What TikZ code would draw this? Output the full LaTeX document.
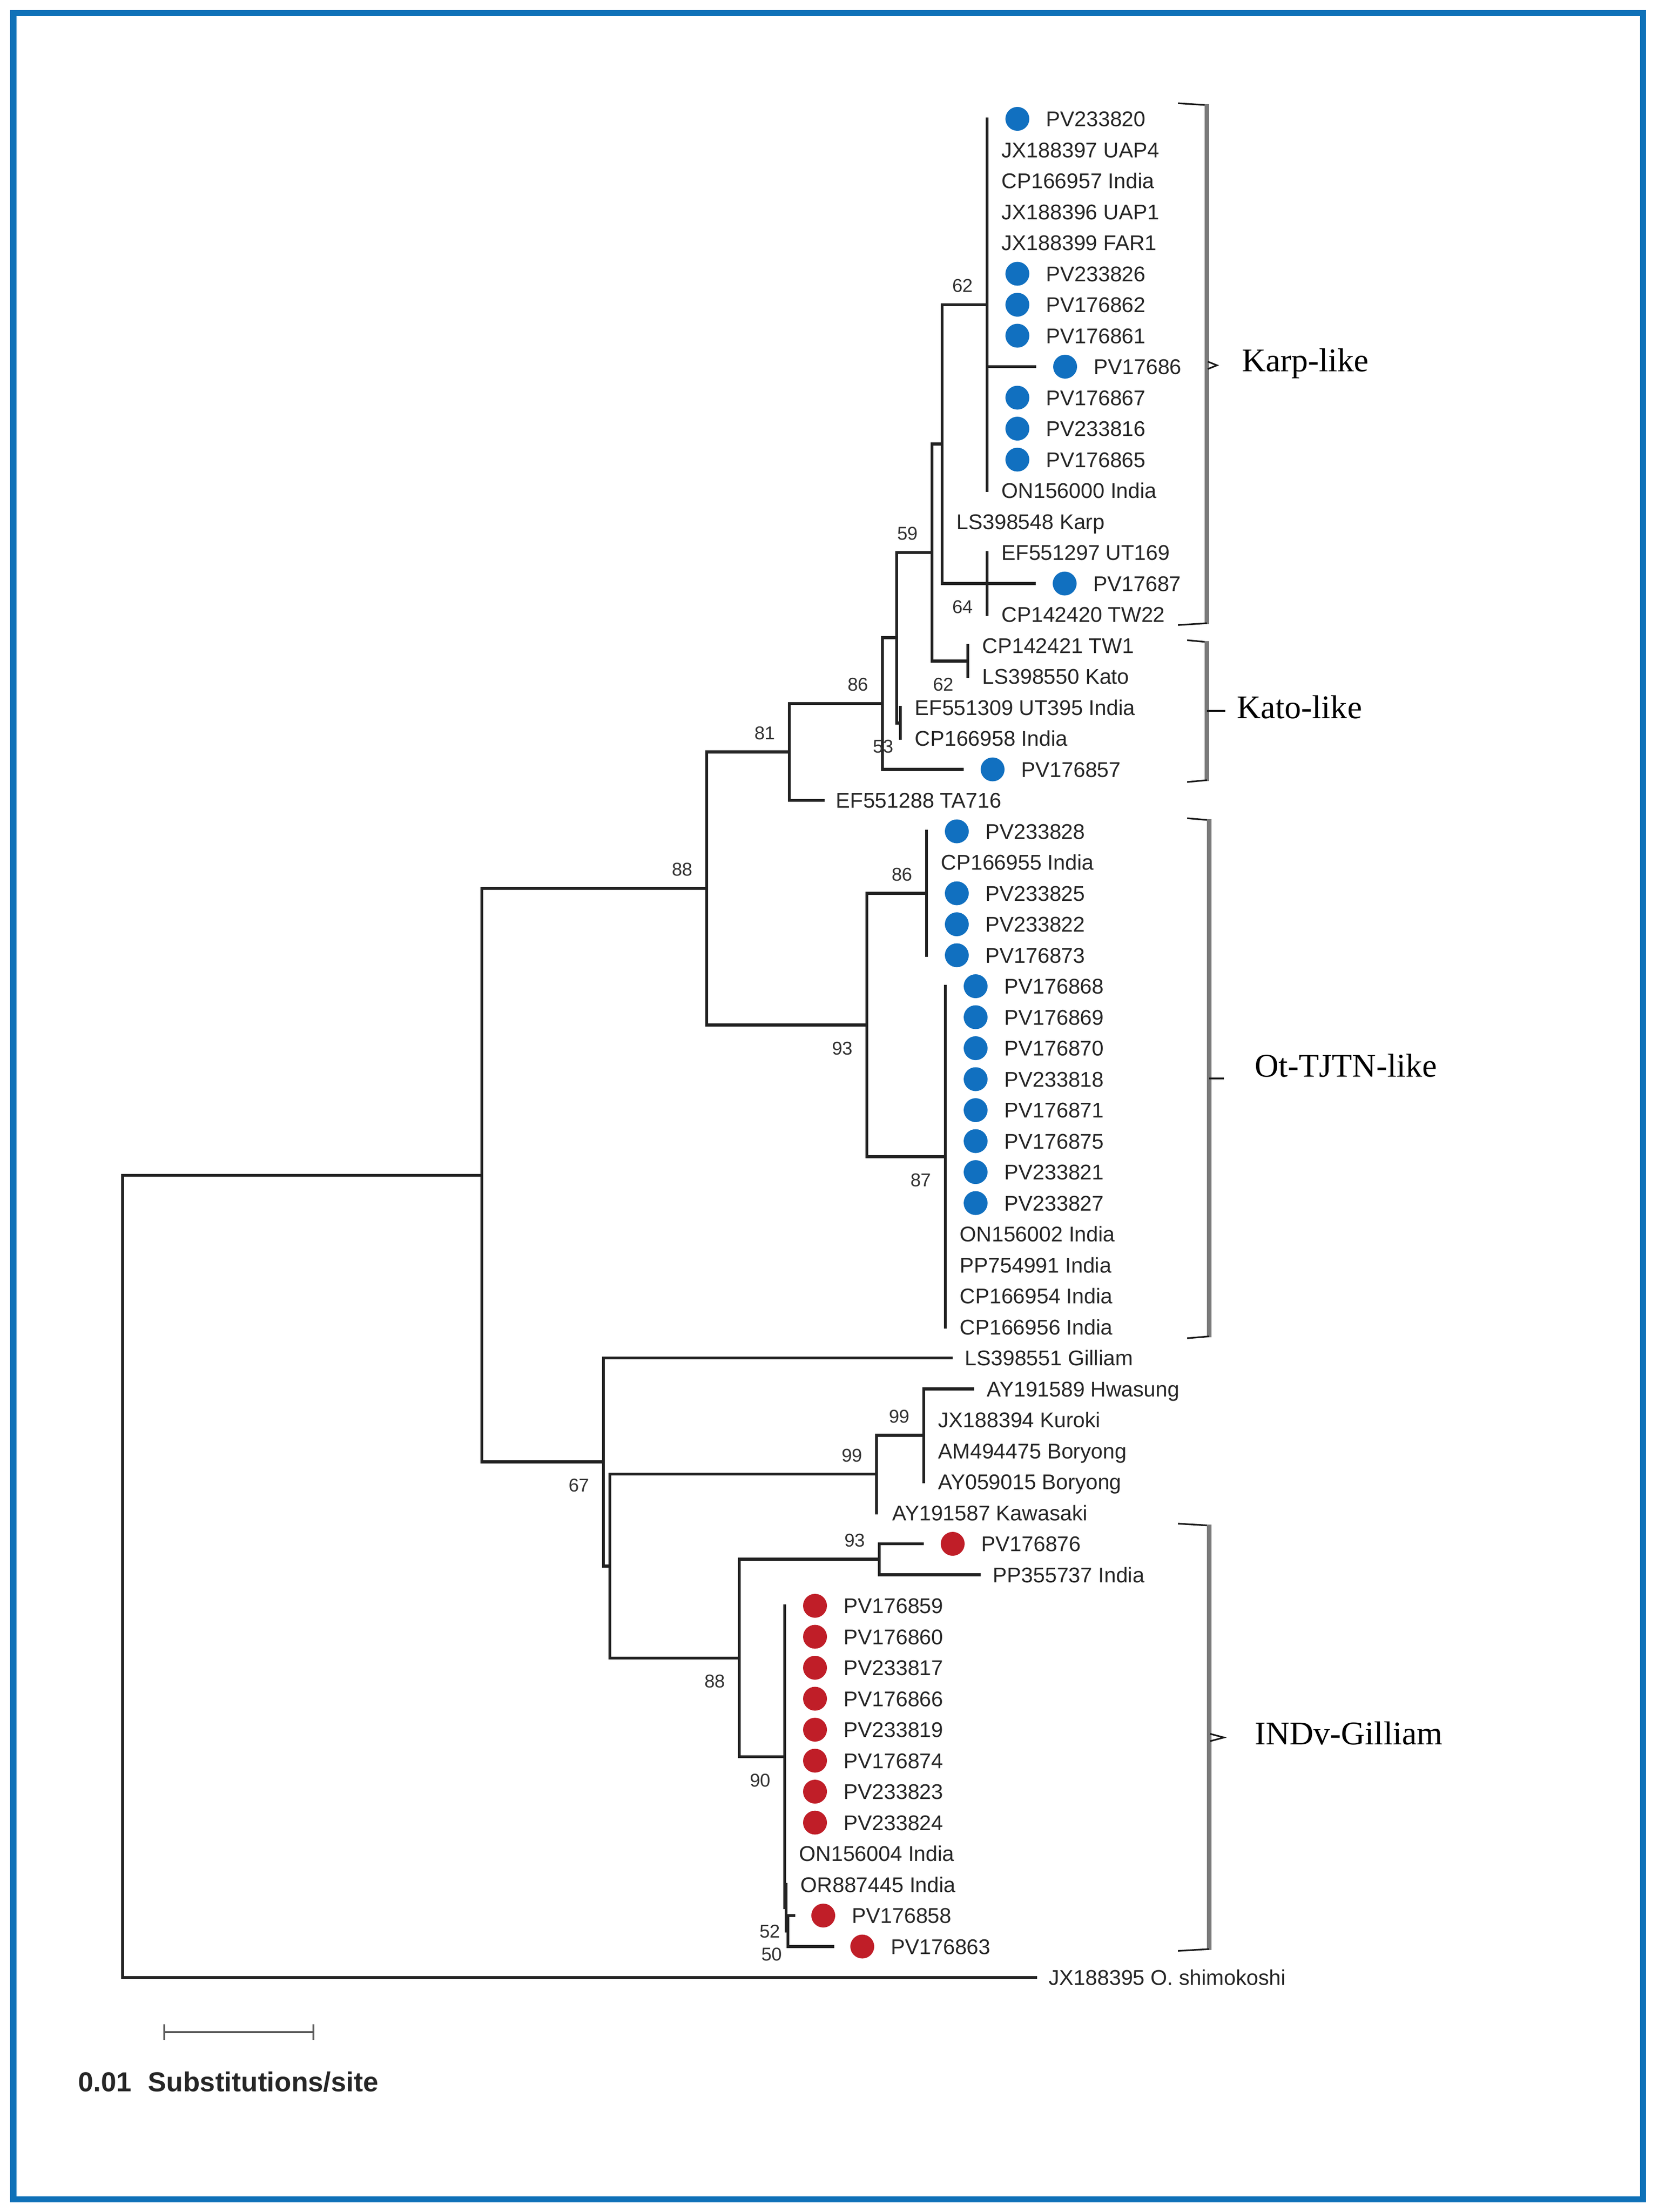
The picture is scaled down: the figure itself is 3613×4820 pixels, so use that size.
\documentclass[tikz,border=0pt]{standalone}
\usepackage{fontspec}
\setmainfont{Liberation Sans}
\newfontfamily\cladefont{Liberation Serif}
\usetikzlibrary{positioning}
\definecolor{framecol}{HTML}{0F71B8}
\definecolor{dotblue}{HTML}{1170C0}
\definecolor{dotred}{HTML}{C01E28}
\definecolor{branchcol}{HTML}{222222}
\definecolor{bracecol}{HTML}{7A7A7A}

\begin{document}
\begin{tikzpicture}[x=0.01cm, y=-0.01cm,
    branch/.style={draw=branchcol, line width=0.066cm, line cap=rect},
    taxon/.style={anchor=base west, inner sep=0, yshift=-0.165cm, text=black!85,
      font=\fontsize{13.2}{15}\selectfont},
    boot/.style={inner sep=0, text=black!80, font=\fontsize{11.5}{13}\selectfont},
    bootup/.style={boot, anchor=south east, xshift=-0.3cm, yshift=0.26cm},
    bootdown/.style={boot, anchor=north east, xshift=-0.3cm, yshift=-0.36cm},
    bluedot/.style={circle, fill=dotblue, inner sep=0, minimum size=0.52cm},
    reddot/.style={circle, fill=dotred, inner sep=0, minimum size=0.52cm},
    bracebar/.style={draw=bracecol, line width=0.1cm},
    braceend/.style={draw=black!90, line width=0.035cm},
    bracetip/.style={draw=black!90, line width=0.035cm},
    clade/.style={anchor=base west, inner sep=0, font=\cladefont\fontsize{20.5}{24}\selectfont},
    scalebar/.style={draw=black!65, line width=0.045cm}]
  \useasboundingbox (0,0) rectangle (3613,4820);
  \draw[framecol, line width=0.13cm] (29,28) rectangle (3580,4792);

  % internal nodes
  \coordinate (root) at (267,3435);
  \coordinate (nA) at (1050,2561);
  \coordinate (nB) at (1540,1936);
  \coordinate (nD) at (1720,1638.5);
  \coordinate (nF) at (1923,1533);
  \coordinate (nG) at (1954,1389.6);
  \coordinate (nH) at (2031,1204);
  \coordinate (nL) at (2053,967.75);
  \coordinate (nK) at (2151,664);
  \coordinate (nJ) at (2151,1271.5);
  \coordinate (nM) at (2109,1440.25);
  \coordinate (nI) at (1962,1575.25);
  \coordinate (nE) at (1889,2233.4);
  \coordinate (nN) at (2019,1946.5);
  \coordinate (nO) at (2060,2520.25);
  \coordinate (nC) at (1315,3185.75);
  \coordinate (nP) at (1329,3412.5);
  \coordinate (nQ) at (1910,3212.1);
  \coordinate (nS) at (2013,3127.75);
  \coordinate (nR) at (1611,3612.9);
  \coordinate (nT) at (1916,3397.75);
  \coordinate (nU) at (1710,3828);
  \coordinate (nV) at (1713,4157.1);
  \coordinate (nW) at (1717,4207.75);

  % leaves: branch end, dot, name
  \coordinate (e0) at (2151,259); \node[bluedot] (d0) at (2217,259) {}; \node[taxon] (t0) at (2279,259) {PV233820};
  \coordinate (e1) at (2151,326.5); \node[taxon] (t1) at (2182,326.5) {JX188397 UAP4};
  \coordinate (e2) at (2151,394); \node[taxon] (t2) at (2182,394) {CP166957 India};
  \coordinate (e3) at (2151,461.5); \node[taxon] (t3) at (2182,461.5) {JX188396 UAP1};
  \coordinate (e4) at (2151,529); \node[taxon] (t4) at (2182,529) {JX188399 FAR1};
  \coordinate (e5) at (2151,596.5); \node[bluedot] (d5) at (2217,596.5) {}; \node[taxon] (t5) at (2279,596.5) {PV233826};
  \coordinate (e6) at (2151,664); \node[bluedot] (d6) at (2217,664) {}; \node[taxon] (t6) at (2279,664) {PV176862};
  \coordinate (e7) at (2151,731.5); \node[bluedot] (d7) at (2217,731.5) {}; \node[taxon] (t7) at (2279,731.5) {PV176861};
  \coordinate (e8) at (2255,799); \node[bluedot] (d8) at (2321,799) {}; \node[taxon] (t8) at (2383,799) {PV17686};
  \coordinate (e9) at (2151,866.5); \node[bluedot] (d9) at (2217,866.5) {}; \node[taxon] (t9) at (2279,866.5) {PV176867};
  \coordinate (e10) at (2151,934); \node[bluedot] (d10) at (2217,934) {}; \node[taxon] (t10) at (2279,934) {PV233816};
  \coordinate (e11) at (2151,1001.5); \node[bluedot] (d11) at (2217,1001.5) {}; \node[taxon] (t11) at (2279,1001.5) {PV176865};
  \coordinate (e12) at (2151,1069); \node[taxon] (t12) at (2182,1069) {ON156000 India};
  \coordinate (e13) at (2053,1136.5); \node[taxon] (t13) at (2084,1136.5) {LS398548 Karp};
  \coordinate (e14) at (2151,1204); \node[taxon] (t14) at (2182,1204) {EF551297 UT169};
  \coordinate (e15) at (2254,1271.5); \node[bluedot] (d15) at (2320,1271.5) {}; \node[taxon] (t15) at (2382,1271.5) {PV17687};
  \coordinate (e16) at (2151,1339); \node[taxon] (t16) at (2182,1339) {CP142420 TW22};
  \coordinate (e17) at (2109,1406.5); \node[taxon] (t17) at (2140,1406.5) {CP142421 TW1};
  \coordinate (e18) at (2109,1474); \node[taxon] (t18) at (2140,1474) {LS398550 Kato};
  \coordinate (e19) at (1962,1541.5); \node[taxon] (t19) at (1993,1541.5) {EF551309 UT395 India};
  \coordinate (e20) at (1962,1609); \node[taxon] (t20) at (1993,1609) {CP166958 India};
  \coordinate (e21) at (2097,1676.5); \node[bluedot] (d21) at (2163,1676.5) {}; \node[taxon] (t21) at (2225,1676.5) {PV176857};
  \coordinate (e22) at (1794,1744); \node[taxon] (t22) at (1821,1744) {EF551288 TA716};
  \coordinate (e23) at (2019,1811.5); \node[bluedot] (d23) at (2085,1811.5) {}; \node[taxon] (t23) at (2147,1811.5) {PV233828};
  \coordinate (e24) at (2019,1879); \node[taxon] (t24) at (2050,1879) {CP166955 India};
  \coordinate (e25) at (2019,1946.5); \node[bluedot] (d25) at (2085,1946.5) {}; \node[taxon] (t25) at (2147,1946.5) {PV233825};
  \coordinate (e26) at (2019,2014); \node[bluedot] (d26) at (2085,2014) {}; \node[taxon] (t26) at (2147,2014) {PV233822};
  \coordinate (e27) at (2019,2081.5); \node[bluedot] (d27) at (2085,2081.5) {}; \node[taxon] (t27) at (2147,2081.5) {PV176873};
  \coordinate (e28) at (2060,2149); \node[bluedot] (d28) at (2126,2149) {}; \node[taxon] (t28) at (2188,2149) {PV176868};
  \coordinate (e29) at (2060,2216.5); \node[bluedot] (d29) at (2126,2216.5) {}; \node[taxon] (t29) at (2188,2216.5) {PV176869};
  \coordinate (e30) at (2060,2284); \node[bluedot] (d30) at (2126,2284) {}; \node[taxon] (t30) at (2188,2284) {PV176870};
  \coordinate (e31) at (2060,2351.5); \node[bluedot] (d31) at (2126,2351.5) {}; \node[taxon] (t31) at (2188,2351.5) {PV233818};
  \coordinate (e32) at (2060,2419); \node[bluedot] (d32) at (2126,2419) {}; \node[taxon] (t32) at (2188,2419) {PV176871};
  \coordinate (e33) at (2060,2486.5); \node[bluedot] (d33) at (2126,2486.5) {}; \node[taxon] (t33) at (2188,2486.5) {PV176875};
  \coordinate (e34) at (2060,2554); \node[bluedot] (d34) at (2126,2554) {}; \node[taxon] (t34) at (2188,2554) {PV233821};
  \coordinate (e35) at (2060,2621.5); \node[bluedot] (d35) at (2126,2621.5) {}; \node[taxon] (t35) at (2188,2621.5) {PV233827};
  \coordinate (e36) at (2060,2689); \node[taxon] (t36) at (2091,2689) {ON156002 India};
  \coordinate (e37) at (2060,2756.5); \node[taxon] (t37) at (2091,2756.5) {PP754991 India};
  \coordinate (e38) at (2060,2824); \node[taxon] (t38) at (2091,2824) {CP166954 India};
  \coordinate (e39) at (2060,2891.5); \node[taxon] (t39) at (2091,2891.5) {CP166956 India};
  \coordinate (e40) at (2073,2959); \node[taxon] (t40) at (2102,2959) {LS398551 Gilliam};
  \coordinate (e41) at (2120,3026.5); \node[taxon] (t41) at (2150,3026.5) {AY191589 Hwasung};
  \coordinate (e42) at (2013,3094); \node[taxon] (t42) at (2044,3094) {JX188394 Kuroki};
  \coordinate (e43) at (2013,3161.5); \node[taxon] (t43) at (2044,3161.5) {AM494475 Boryong};
  \coordinate (e44) at (2013,3229); \node[taxon] (t44) at (2044,3229) {AY059015 Boryong};
  \coordinate (e45) at (1910,3296.5); \node[taxon] (t45) at (1944,3296.5) {AY191587 Kawasaki};
  \coordinate (e46) at (2010,3364); \node[reddot] (d46) at (2076,3364) {}; \node[taxon] (t46) at (2138,3364) {PV176876};
  \coordinate (e47) at (2134,3431.5); \node[taxon] (t47) at (2163,3431.5) {PP355737 India};
  \coordinate (e48) at (1710,3499); \node[reddot] (d48) at (1776,3499) {}; \node[taxon] (t48) at (1838,3499) {PV176859};
  \coordinate (e49) at (1710,3566.5); \node[reddot] (d49) at (1776,3566.5) {}; \node[taxon] (t49) at (1838,3566.5) {PV176860};
  \coordinate (e50) at (1710,3634); \node[reddot] (d50) at (1776,3634) {}; \node[taxon] (t50) at (1838,3634) {PV233817};
  \coordinate (e51) at (1710,3701.5); \node[reddot] (d51) at (1776,3701.5) {}; \node[taxon] (t51) at (1838,3701.5) {PV176866};
  \coordinate (e52) at (1710,3769); \node[reddot] (d52) at (1776,3769) {}; \node[taxon] (t52) at (1838,3769) {PV233819};
  \coordinate (e53) at (1710,3836.5); \node[reddot] (d53) at (1776,3836.5) {}; \node[taxon] (t53) at (1838,3836.5) {PV176874};
  \coordinate (e54) at (1710,3904); \node[reddot] (d54) at (1776,3904) {}; \node[taxon] (t54) at (1838,3904) {PV233823};
  \coordinate (e55) at (1710,3971.5); \node[reddot] (d55) at (1776,3971.5) {}; \node[taxon] (t55) at (1838,3971.5) {PV233824};
  \coordinate (e56) at (1710,4039); \node[taxon] (t56) at (1741,4039) {ON156004 India};
  \coordinate (e57) at (1713,4106.5); \node[taxon] (t57) at (1744,4106.5) {OR887445 India};
  \coordinate (e58) at (1730,4174); \node[reddot] (d58) at (1794,4174) {}; \node[taxon] (t58) at (1856,4174) {PV176858};
  \coordinate (e59) at (1815,4241.5); \node[reddot] (d59) at (1879,4241.5) {}; \node[taxon] (t59) at (1941,4241.5) {PV176863};
  \coordinate (e60) at (2257,4309); \node[taxon] (t60) at (2285,4309) {JX188395 O. shimokoshi};

  \begin{scope}[branch]
    \draw (root) |- (nA);
    \draw (root) |- (e60);
    \draw (nA) |- (nB);
    \draw (nA) |- (nC);
    \draw (nB) |- (nD);
    \draw (nB) |- (nE);
    \draw (nD) |- (nF);
    \draw (nD) |- (e22);
    \draw (nF) |- (nG);
    \draw (nF) |- (e21);
    \draw (nG) |- (nH);
    \draw (nG) |- (nI);
    \draw (nH) |- (nL);
    \draw (nH) |- (nM);
    \draw (nL) |- (nK);
    \draw (nL) |- (e13);
    \draw (nL) |- (nJ);
    \draw (nK) |- (e0);
    \draw (nK) |- (e8);
    \draw (nK) |- (e12);
    \draw (nJ) |- (e14);
    \draw (nJ) |- (e15);
    \draw (nJ) |- (e16);
    \draw (nM) |- (e17);
    \draw (nM) |- (e18);
    \draw (nI) |- (e19);
    \draw (nI) |- (e20);
    \draw (nE) |- (nN);
    \draw (nE) |- (nO);
    \draw (nN) |- (e23);
    \draw (nN) |- (e27);
    \draw (nO) |- (e28);
    \draw (nO) |- (e39);
    \draw (nC) |- (e40);
    \draw (nC) |- (nP);
    \draw (nP) |- (nQ);
    \draw (nP) |- (nR);
    \draw (nQ) |- (nS);
    \draw (nQ) |- (e45);
    \draw (nS) |- (e41);
    \draw (nS) |- (e44);
    \draw (nR) |- (nT);
    \draw (nR) |- (nU);
    \draw (nT) |- (e46);
    \draw (nT) |- (e47);
    \draw (nU) |- (e48);
    \draw (nU) |- (nV);
    \draw (nV) |- (e57);
    \draw (nV) |- (nW);
    \draw (nW) |- (e58);
    \draw (nW) |- (e59);
  \end{scope}

  % bootstrap values
  \node[bootup] (bK) at (nK) {62};
  \node[bootup] (bH) at (nH) {59};
  \node[bootdown] (bJ) at (nJ) {64};
  \node[bootdown] (bM) at (nM) {62};
  \node[bootup] (bF) at (nF) {86};
  \node[bootup] (bD) at (nD) {81};
  \node[bootdown, xshift=0.16cm] (bI) at (nI) {53};
  \node[bootup] (bB) at (nB) {88};
  \node[bootup] (bN) at (nN) {86};
  \node[bootdown] (bE) at (nE) {93};
  \node[bootdown] (bO) at (nO) {87};
  \node[bootdown] (bC) at (nC) {67};
  \node[bootup] (bS) at (nS) {99};
  \node[bootup] (bQ) at (nQ) {99};
  \node[bootup] (bT) at (nT) {93};
  \node[bootdown] (bR) at (nR) {88};
  \node[bootdown] (bU) at (nU) {90};
  \node[bootdown, xshift=0.18cm] (bV) at (nV) {52};
  \node[bootdown, xshift=0.18cm] (bW) at (nW) {50};

  % clade brackets
  \draw[braceend] (2567,225) -- (2630,229);
  \draw[bracebar] (2630,227) -- (2630,1360);
  \draw[braceend] (2567,1362) -- (2630,1358);
  \draw[bracetip] (2632,788) -- (2652,796) -- (2632,804);
  \node[clade] (karp) at (2706,809) {Karp-like};

  \draw[braceend] (2587,1395) -- (2630,1399);
  \draw[bracebar] (2630,1397) -- (2630,1702);
  \draw[braceend] (2587,1704) -- (2630,1700);
  \draw[bracetip] (2630,1549) -- (2670,1549);
  \node[clade] (kato) at (2695,1565) {Kato-like};

  \draw[braceend] (2587,1783) -- (2635,1787);
  \draw[bracebar] (2635,1785) -- (2635,2914);
  \draw[braceend] (2587,2916) -- (2635,2912);
  \draw[bracetip] (2635,2350) -- (2667,2350);
  \node[clade] (ottjtn) at (2734,2346) {Ot-TJTN-like};

  \draw[braceend] (2567,3320) -- (2635,3324);
  \draw[bracebar] (2635,3322) -- (2635,4249);
  \draw[braceend] (2567,4251) -- (2635,4247);
  \draw[bracetip] (2637,3778) -- (2667,3786) -- (2637,3794);
  \node[clade] (indv) at (2734,3801) {INDv-Gilliam};

  % scale bar
  \coordinate (s0) at (358,4428);
  \coordinate (s1) at (683,4428);
  \draw[scalebar] (s0) -- (s1);
  \draw[scalebar] ([yshift=0.17cm]s0) -- ([yshift=-0.17cm]s0);
  \draw[scalebar] ([yshift=0.17cm]s1) -- ([yshift=-0.17cm]s1);
  \node[anchor=base west, inner sep=0, font=\bfseries\fontsize{17}{20}\selectfont, text=black!85]
    (scaletext) at (170,4557) {0.01\hspace{0.6em}Substitutions/site};
\end{tikzpicture}
\end{document}
